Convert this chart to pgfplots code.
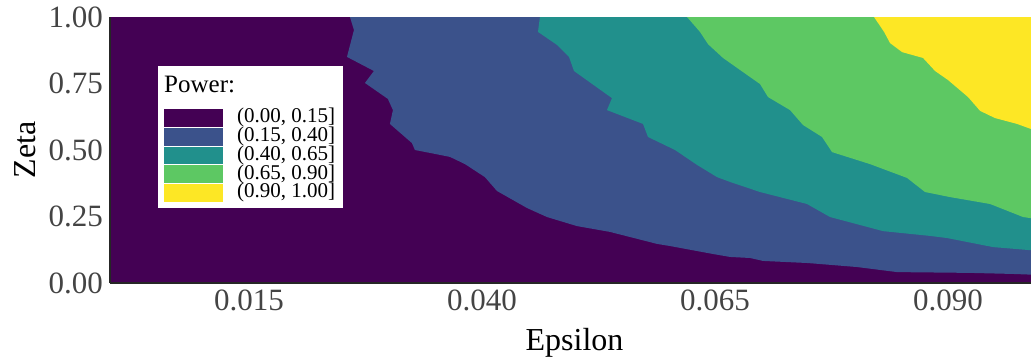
\documentclass[border=0pt]{standalone}
\usepackage{fontspec}
\setmainfont{Liberation Serif}
\usepackage{pgfplots}
\pgfplotsset{compat=1.18}
\definecolor{c0}{HTML}{440154}
\definecolor{c1}{HTML}{3B528B}
\definecolor{c2}{HTML}{21908C}
\definecolor{c3}{HTML}{5DC863}
\definecolor{c4}{HTML}{FDE725}
\definecolor{tickgray}{HTML}{444444}
\begin{document}
\begin{tikzpicture}
\begin{axis}[
 at={(0,0)}, anchor=south west,
 scale only axis, width=921pt, height=266pt,
 xmin=0.0001, xmax=0.0989, ymin=0, ymax=1,
 scaled x ticks=false, scaled y ticks=false,
 axis x line*=bottom, axis y line*=left,
 axis line style={black!85, line width=1.3pt},
 axis background/.style={fill=c0},
 xtick={0.015,0.040,0.065,0.090}, xticklabels={0.015,0.040,0.065,0.090},
 ytick={0,0.25,0.5,0.75,1}, yticklabels={0.00,0.25,0.50,0.75,1.00},
 major tick length=0pt,
 tick label style={font=\fontsize{31}{36}\selectfont, text=tickgray},
 xticklabel style={anchor=north, inner sep=0pt, yshift=-7pt},
 yticklabel style={anchor=east, inner sep=0pt, xshift=-7pt},
 xlabel={Epsilon}, ylabel={Zeta},
 label style={font=\fontsize{32}{38}\selectfont},
 xlabel style={at={(axis description cs:0.5,0)}, anchor=base, yshift=-67pt, xshift=4pt},
 ylabel style={at={(axis description cs:-0.0814,0.5)}, anchor=base},
 axis on top,
]
% (0.15, 0.40]
\addplot[fill=c1, draw=none] coordinates {
(0.02584,1.05) (0.02584,1.000) (0.02627,0.951) (0.02552,0.850) (0.02841,0.797)
(0.02745,0.752) (0.02991,0.692) (0.03045,0.650) (0.03013,0.598) (0.03249,0.526)
(0.03281,0.500) (0.03442,0.489) (0.03657,0.474) (0.03818,0.447) (0.04032,0.398)
(0.04161,0.346) (0.04483,0.282) (0.04698,0.248) (0.05019,0.214) (0.05374,0.192)
(0.05878,0.147) (0.06017,0.139) (0.06479,0.109) (0.06661,0.098) (0.06876,0.094)
(0.07015,0.083) (0.07498,0.075) (0.08024,0.060) (0.08453,0.041) (0.09236,0.038)
(0.09698,0.034) (0.1,0.030) (0.1,1.05)};
% (0.40, 0.65]
\addplot[fill=c2, draw=none] coordinates {
(0.04622,1.05) (0.04622,1.000) (0.04601,0.944) (0.04805,0.895) (0.04934,0.850)
(0.04987,0.797) (0.05395,0.695) (0.05341,0.650) (0.05728,0.598) (0.05781,0.549)
(0.06071,0.500) (0.06307,0.444) (0.06522,0.398) (0.06661,0.380) (0.06983,0.342)
(0.07487,0.297) (0.07734,0.248) (0.08303,0.195) (0.08807,0.177) (0.08990,0.169)
(0.09483,0.135) (0.1,0.120) (0.1,1.05)};
% (0.65, 0.90]
\addplot[fill=c3, draw=none] coordinates {
(0.06200,1.05) (0.06200,1.000) (0.06339,0.944) (0.06425,0.898) (0.06586,0.846)
(0.06768,0.801) (0.06983,0.748) (0.07069,0.699) (0.07305,0.650) (0.07444,0.594)
(0.07648,0.549) (0.07756,0.492) (0.08163,0.447) (0.08560,0.395) (0.08753,0.342)
(0.09022,0.323) (0.09451,0.297) (0.09805,0.248) (0.1,0.238) (0.1,1.05)};
% (0.90, 1.00]
\addplot[fill=c4, draw=none] coordinates {
(0.08206,1.05) (0.08206,1.000) (0.08314,0.944) (0.08378,0.902) (0.08507,0.868)
(0.08732,0.846) (0.08861,0.797) (0.09000,0.763) (0.09215,0.699) (0.09344,0.647)
(0.09505,0.620) (0.09741,0.598) (0.1,0.565) (0.1,1.05)};
\end{axis}
% legend
\fill[white] (48pt,75pt) rectangle (233pt,217pt);
\node[anchor=base west, inner sep=0pt, font=\fontsize{25}{30}\selectfont] at (54pt,191pt) {Power:};
\fill[c0] (54pt,156.25pt) rectangle (113pt,174pt);
\fill[c1] (54pt,137.5pt) rectangle (113pt,155.25pt);
\fill[c2] (54pt,118.75pt) rectangle (113pt,136.5pt);
\fill[c3] (54pt,100pt) rectangle (113pt,117.75pt);
\fill[c4] (54pt,81.25pt) rectangle (113pt,99pt);
\node[anchor=west, inner sep=0pt, font=\fontsize{21}{25}\selectfont] at (127pt,165.1pt) {(0.00, 0.15]};
\node[anchor=west, inner sep=0pt, font=\fontsize{21}{25}\selectfont] at (127pt,146.4pt) {(0.15, 0.40]};
\node[anchor=west, inner sep=0pt, font=\fontsize{21}{25}\selectfont] at (127pt,127.6pt) {(0.40, 0.65]};
\node[anchor=west, inner sep=0pt, font=\fontsize{21}{25}\selectfont] at (127pt,108.9pt) {(0.65, 0.90]};
\node[anchor=west, inner sep=0pt, font=\fontsize{21}{25}\selectfont] at (127pt,90.1pt) {(0.90, 1.00]};
\pgfresetboundingbox
\path[use as bounding box] (-110pt,-74pt) rectangle (921pt,283pt);
\end{tikzpicture}
\end{document}
